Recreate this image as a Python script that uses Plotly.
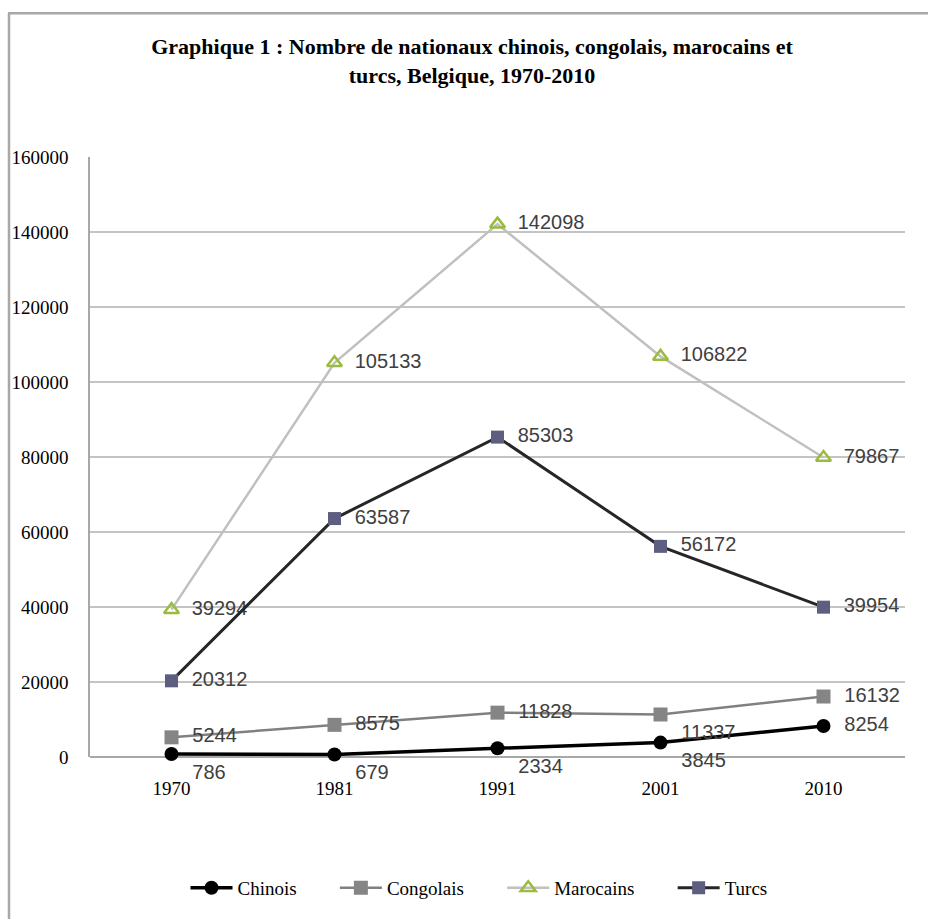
import plotly.graph_objects as go

years = ["1970", "1981", "1991", "2001", "2010"]
chinois = [786, 679, 2334, 3845, 8254]
congolais = [5244, 8575, 11828, 11337, 16132]
marocains = [39294, 105133, 142098, 106822, 79867]
turcs = [20312, 63587, 85303, 56172, 39954]
series_names = ["Chinois", "Congolais", "Marocains", "Turcs"]

title_text = "Graphique 1 : Nombre de nationaux chinois, congolais, marocains et<br>turcs, Belgique, 1970-2010"

label_font = dict(family="Liberation Sans, Arial, sans-serif", size=20, color="#404040")
PAD = "\u00a0\u00a0"
LPAD = "\u00a0" * 7

def labels(vals):
    return [PAD + str(v) for v in vals]

fig = go.Figure()
fig.add_trace(go.Scatter(
    x=years, y=chinois, name=series_names[0] + LPAD, mode="lines+markers+text",
    line=dict(color="#000000", width=3.5),
    marker=dict(symbol="circle", size=14, color="#000000"),
    text=labels(chinois),
    textposition=["bottom right", "bottom right", "bottom right", "bottom right", "middle right"],
    textfont=label_font, cliponaxis=False,
))
fig.add_trace(go.Scatter(
    x=years, y=congolais, name=series_names[1] + LPAD, mode="lines+markers+text",
    line=dict(color="#808080", width=2.5),
    marker=dict(symbol="square", size=14, color="#858585"),
    text=labels(congolais),
    textposition=["middle right", "middle right", "middle right", "bottom right", "middle right"],
    textfont=label_font, cliponaxis=False,
))
fig.add_trace(go.Scatter(
    x=years, y=marocains, name=series_names[2] + LPAD, mode="lines+markers+text",
    line=dict(color="#c0c0c0", width=2.5),
    marker=dict(symbol="triangle-up-open", size=13, color="#9bbb40",
                line=dict(width=2.5, color="#9bbb40")),
    text=labels(marocains),
    textposition="middle right",
    textfont=label_font, cliponaxis=False,
))
fig.add_trace(go.Scatter(
    x=years, y=turcs, name=series_names[3], mode="lines+markers+text",
    line=dict(color="#262626", width=3),
    marker=dict(symbol="square", size=13, color="#5e5e80"),
    text=labels(turcs),
    textposition="middle right",
    textfont=label_font, cliponaxis=False,
))

W, H = 928, 919
L, R, T, B = 90, 23, 157, 157
pw, ph = W - L - R, H - T - B

def px2x(px):
    return (px - L) / pw

def py2y(py):
    return (H - B - py) / ph

serif = "Liberation Serif, Times New Roman, serif"

fig.update_layout(
    width=W, height=H,
    margin=dict(l=L, r=R, t=T, b=B),
    paper_bgcolor="white", plot_bgcolor="white",
    title=dict(text=title_text, x=472 / W, xanchor="center",
               y=1 - 54 / H, yanchor="middle",
               font=dict(family=serif, size=22, color="#000000", weight="bold")),
    showlegend=True,
    legend=dict(orientation="h", x=px2x(479), xanchor="center", y=py2y(894), yanchor="middle",
                font=dict(family=serif, size=19, color="#000000"),
                itemwidth=42),
    xaxis=dict(type="category", range=[-0.5, 4.5], showgrid=False, zeroline=False,
               showline=False, ticks="",
               tickfont=dict(family=serif, size=19, color="#000000"),
               ticklabelstandoff=18),
    yaxis=dict(range=[0, 160000], dtick=20000, showgrid=True, gridcolor="#c4c4c4", gridwidth=1.5,
               zeroline=True, zerolinecolor="#a8a8a8", zerolinewidth=1.5,
               showline=True, linecolor="#a8a8a8", linewidth=1.5, ticks="",
               tickformat="d",
               tickfont=dict(family=serif, size=19, color="#000000"),
               ticklabelstandoff=16),
    shapes=[
        dict(type="line", xref="paper", yref="paper", x0=px2x(9), x1=px2x(9), y0=py2y(930), y1=py2y(12),
             line=dict(color="#a8a8a8", width=2.5)),
        dict(type="line", xref="paper", yref="paper", x0=px2x(8), x1=px2x(940), y0=py2y(12), y1=py2y(12),
             line=dict(color="#a8a8a8", width=2.5)),
    ],
)

fig.write_html("out.html")
